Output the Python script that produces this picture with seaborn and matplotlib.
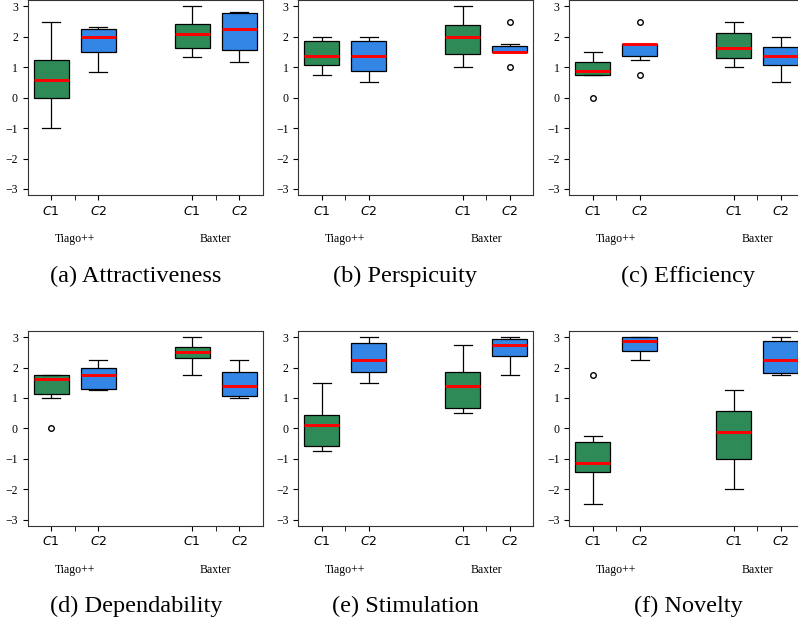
import pandas as pd
import seaborn as sns
import matplotlib.pyplot as plt

# UEQ scale scores per participant, read back from the box plots
attr_tiago_c1 = [-1.0, -0.5, 0.0, 0.33, 0.58, 0.83, 1.25, 1.67, 2.5]
attr_tiago_c2 = [0.83, 1.33, 1.5, 1.83, 2.0, 2.17, 2.25, 2.33, 2.33]
attr_baxter_c1 = [1.33, 1.5, 1.62, 1.83, 2.08, 2.25, 2.42, 2.67, 3.0]
attr_baxter_c2 = [1.17, 1.33, 1.58, 2.0, 2.25, 2.5, 2.78, 2.83, 2.83]

persp_tiago_c1 = [0.75, 1.0, 1.06, 1.25, 1.38, 1.5, 1.88, 2.0, 2.0]
persp_tiago_c2 = [0.5, 0.75, 0.88, 1.0, 1.38, 1.5, 1.88, 2.0, 2.0]
persp_baxter_c1 = [1.0, 1.25, 1.44, 1.75, 2.0, 2.25, 2.38, 2.75, 3.0]
persp_baxter_c2 = [1.0, 1.5, 1.5, 1.5, 1.5, 1.5, 1.69, 1.75, 2.5]

eff_tiago_c1 = [0.0, 0.75, 0.75, 0.75, 0.88, 1.0, 1.18, 1.25, 1.5]
eff_tiago_c2 = [0.75, 1.25, 1.37, 1.5, 1.75, 1.75, 1.75, 1.75, 2.5]
eff_baxter_c1 = [1.0, 1.25, 1.3, 1.5, 1.62, 1.88, 2.12, 2.25, 2.5]
eff_baxter_c2 = [0.5, 0.75, 1.06, 1.25, 1.38, 1.5, 1.68, 1.75, 2.0]

dep_tiago_c1 = [0.0, 1.0, 1.13, 1.5, 1.63, 1.75, 1.75, 1.75, 1.75]
dep_tiago_c2 = [1.25, 1.25, 1.3, 1.5, 1.75, 1.88, 2.0, 2.0, 2.25]
dep_baxter_c1 = [1.75, 2.25, 2.3, 2.5, 2.5, 2.62, 2.69, 2.75, 3.0]
dep_baxter_c2 = [1.0, 1.0, 1.06, 1.25, 1.38, 1.5, 1.87, 2.0, 2.25]

stim_tiago_c1 = [-0.75, -0.62, -0.57, 0.0, 0.12, 0.25, 0.43, 1.0, 1.5]
stim_tiago_c2 = [1.5, 1.75, 1.87, 2.0, 2.25, 2.5, 2.8, 3.0, 3.0]
stim_baxter_c1 = [0.5, 0.62, 0.68, 1.0, 1.38, 1.5, 1.87, 2.25, 2.75]
stim_baxter_c2 = [1.75, 2.25, 2.37, 2.5, 2.75, 2.87, 2.93, 3.0, 3.0]

nov_tiago_c1 = [-2.5, -1.75, -1.43, -1.25, -1.13, -0.75, -0.45, -0.25, 1.75]
nov_tiago_c2 = [2.25, 2.5, 2.56, 2.75, 2.87, 3.0, 3.0, 3.0, 3.0]
nov_baxter_c1 = [-2.0, -1.5, -1.0, -0.5, -0.13, 0.25, 0.56, 1.0, 1.25]
nov_baxter_c2 = [1.75, 1.75, 1.82, 2.0, 2.25, 2.5, 2.87, 3.0, 3.0]

captions = ["(a) Attractiveness", "(b) Perspicuity", "(c) Efficiency",
            "(d) Dependability", "(e) Stimulation", "(f) Novelty"]
groups = [
    [attr_tiago_c1, attr_tiago_c2, attr_baxter_c1, attr_baxter_c2],
    [persp_tiago_c1, persp_tiago_c2, persp_baxter_c1, persp_baxter_c2],
    [eff_tiago_c1, eff_tiago_c2, eff_baxter_c1, eff_baxter_c2],
    [dep_tiago_c1, dep_tiago_c2, dep_baxter_c1, dep_baxter_c2],
    [stim_tiago_c1, stim_tiago_c2, stim_baxter_c1, stim_baxter_c2],
    [nov_tiago_c1, nov_tiago_c2, nov_baxter_c1, nov_baxter_c2],
]
conditions = ["C1", "C2", "C1", "C2"]
robots = ["Tiago++", "Baxter"]

positions = [0, 1, 3, 4]
palette = {"C1": "#2e8b57", "C2": "#3385e6"}

plt.rcParams["font.family"] = "serif"
plt.rcParams["font.serif"] = ["Liberation Serif", "DejaVu Serif"]
plt.rcParams["mathtext.fontset"] = "dejavusans"

W, H = 798, 623
fig = plt.figure(figsize=(W / 100, H / 100), dpi=100)

col_left = [27.7, 298.3, 569.3]
row_bottom = [195.0, 525.7]
ax_w, ax_h = 235.0, 194.6
cap_x = [136, 405, 688]
cap_y = [276, 606]

for i, (cap, grp) in enumerate(zip(captions, groups)):
    r, c = divmod(i, 3)
    ax = fig.add_axes([col_left[c] / W, 1 - row_bottom[r] / H, ax_w / W, ax_h / H])

    rows = []
    for pos, cond, vals in zip(positions, conditions, grp):
        for v in vals:
            rows.append({"pos": pos, "cond": cond, "score": v})
    df = pd.DataFrame(rows)

    sns.boxplot(
        data=df, x="pos", y="score", hue="cond",
        palette=palette, native_scale=True, dodge=False,
        width=0.75, saturation=1, linecolor="black", linewidth=0.9,
        medianprops={"color": "red", "linewidth": 2.1},
        flierprops={"marker": "o", "markerfacecolor": "white",
                    "markeredgecolor": "black", "markersize": 4},
        legend=False, ax=ax,
    )

    ax.set_xlim(-0.5, 4.5)
    ax.set_ylim(-3.2, 3.2)
    ax.set_yticks(range(-3, 4))
    ax.set_xticks(positions)
    ax.set_xticklabels(["$C1$", "$C2$", "$C1$", "$C2$"], fontsize=9)
    ax.set_xticks([0.5, 3.5], minor=True)
    ax.set_xticklabels(robots, minor=True, fontsize=8.5)
    ax.tick_params(axis="x", which="minor", length=3.5, pad=24)
    ax.tick_params(axis="both", which="major", length=3.5, labelsize=8.5)
    ax.tick_params(axis="x", which="major", labelsize=9)
    ax.set_xlabel("")
    ax.set_ylabel("")
    for sp in ax.spines.values():
        sp.set_color("#333333")

    fig.text(cap_x[c] / W, 1 - cap_y[r] / H, cap, ha="center", va="center",
             fontsize=17.5)

fig.savefig("out.png", dpi=100)
